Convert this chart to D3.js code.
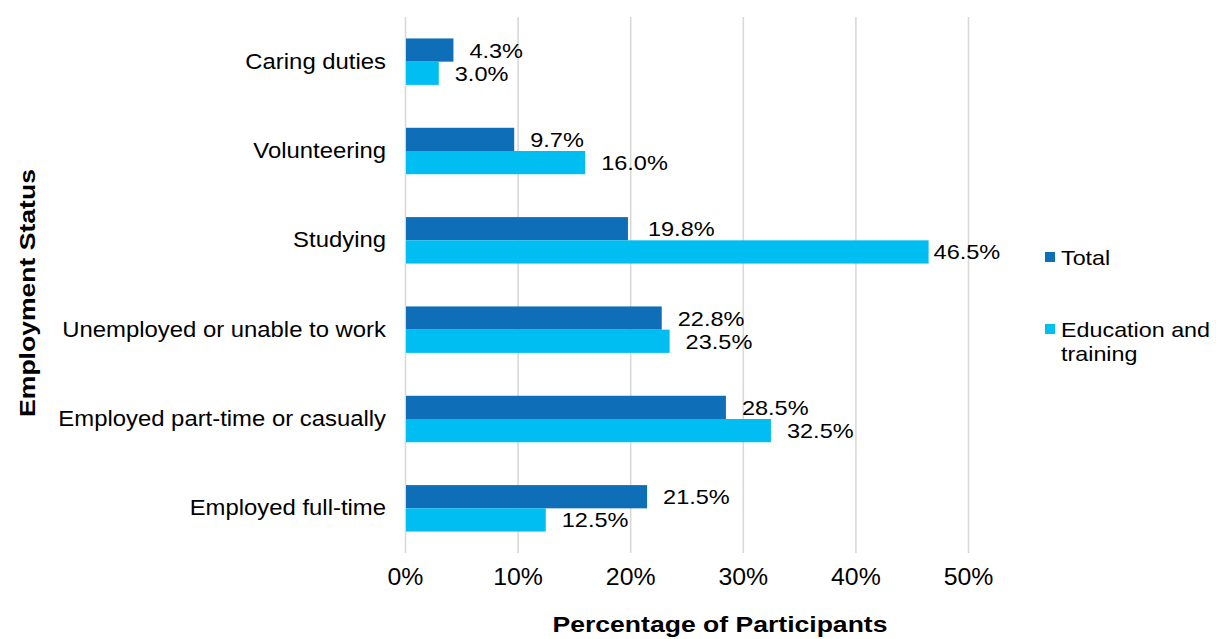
<!DOCTYPE html>
<html>
<head>
<meta charset="utf-8">
<script src="https://cdn.jsdelivr.net/npm/d3@7"></script>
<style>
  html, body { margin: 0; padding: 0; background: #fff; }
  svg { display: block; font-family: "Liberation Sans", Arial, Helvetica, sans-serif; }
</style>
</head>
<body>
<svg id="chart" width="1216" height="639"></svg>
<script>
// ---- Data ----
const categories = [
  "Caring duties",
  "Volunteering",
  "Studying",
  "Unemployed or unable to work",
  "Employed part-time or casually",
  "Employed full-time"
];
const seriesNames = ["Total", "Education and training"];
const totalValues     = [4.3, 9.7, 19.8, 22.8, 28.5, 21.5];
const educationValues = [3.0, 16.0, 46.5, 23.5, 32.5, 12.5];
const xTicks = [0, 10, 20, 30, 40, 50];
const xTitle = "Percentage of Participants";
const yTitle = "Employment Status";

// ---- Styling ----
const colors = { "Total": "#0E6EB8", "Education and training": "#00BEF2" };
const gridColor = "#D9D9D9";

const svg = d3.select("#chart");

function stretch(sel, f) {
  sel.each(function () {
    const w = this.getComputedTextLength();
    this.setAttribute("textLength", w * f);
    this.setAttribute("lengthAdjust", "spacingAndGlyphs");
  });
}

const plot = { left: 405, right: 968, top: 17, bottom: 553 };

const x = d3.scaleLinear().domain([0, 50]).range([plot.left, plot.right]);
const y = d3.scaleBand().domain(categories).range([plot.top, plot.bottom])
  .paddingInner(0.48).paddingOuter(0.24);
const ySub = d3.scaleBand().domain(seriesNames).range([0, y.bandwidth()]);

// ---- X axis (gridlines + labels) ----
const xAxis = svg.append("g")
  .attr("transform", `translate(0,${plot.bottom})`)
  .call(d3.axisBottom(x).tickValues(xTicks)
    .tickSize(-(plot.bottom - plot.top))
    .tickPadding(16)
    .tickFormat(d => d + "%"));
xAxis.select(".domain").remove();
xAxis.selectAll(".tick line").attr("stroke", gridColor).attr("stroke-width", 1.6);
xAxis.selectAll(".tick text")
  .attr("fill", "#000").style("font-size", "23px").style("font-family", "inherit");
stretch(xAxis.selectAll(".tick text"), 1.08);

// ---- Y axis (category labels) ----
const yAxis = svg.append("g")
  .attr("transform", `translate(${plot.left},0)`)
  .call(d3.axisLeft(y).tickSize(0).tickPadding(19));
yAxis.select(".domain").remove();
yAxis.selectAll(".tick text")
  .attr("fill", "#000").style("font-size", "22px").style("font-family", "inherit");
stretch(yAxis.selectAll(".tick text"), 1.085);

// ---- Bars ----
const rows = categories.map((c, i) => ({
  category: c,
  values: [
    { series: "Total", value: totalValues[i] },
    { series: "Education and training", value: educationValues[i] }
  ]
}));

const groups = svg.append("g").selectAll("g")
  .data(rows).join("g")
  .attr("transform", d => `translate(0,${y(d.category)})`);

groups.selectAll("rect")
  .data(d => d.values).join("rect")
  .attr("x", x(0) + 1)
  .attr("y", d => ySub(d.series))
  .attr("width", d => x(d.value) - x(0) - 1)
  .attr("height", ySub.bandwidth())
  .attr("fill", d => colors[d.series]);

// label offsets (Excel-like, with a couple of manually shifted ones)
const labelGap = 16;
const labelGapOverride = { "Studying|Total": 20, "Studying|Education and training": 5 };

const vLabels = groups.selectAll("text.val")
  .data(d => d.values.map(v => ({ ...v, category: d.category }))).join("text")
  .attr("class", "val")
  .attr("x", d => x(d.value) + (labelGapOverride[d.category + "|" + d.series] ?? labelGap))
  .attr("y", d => ySub(d.series) + ySub.bandwidth() / 2)
  .attr("dy", "0.36em")
  .style("font-size", "21px")
  .attr("fill", "#000")
  .text(d => d.value.toFixed(1) + "%");
stretch(vLabels, 1.12);

// ---- Axis titles ----
const xt = svg.append("text")
  .attr("x", 720).attr("y", 632)
  .attr("text-anchor", "middle")
  .style("font-size", "22.5px").style("font-weight", "bold")
  .text(xTitle);
stretch(xt, 1.18);

const yt = svg.append("text")
  .attr("transform", "translate(35,293) rotate(-90)")
  .attr("text-anchor", "middle")
  .style("font-size", "22.5px").style("font-weight", "bold")
  .text(yTitle);
stretch(yt, 1.18);

// ---- Legend ----
const legend = svg.append("g");
const legendItems = [
  { series: "Total", lines: ["Total"], y: 257 },
  { series: "Education and training", lines: ["Education and", "training"], y: 329 }
];
legendItems.forEach(item => {
  legend.append("rect")
    .attr("x", 1045).attr("y", item.y - 5)
    .attr("width", 10).attr("height", 10)
    .attr("fill", colors[item.series]);
  item.lines.forEach((ln, j) => {
    const t = legend.append("text")
      .attr("x", 1061).attr("y", item.y + j * 24)
      .attr("dy", "0.36em")
      .style("font-size", "21px")
      .text(ln);
    stretch(t, 1.11);
  });
});
</script>
</body>
</html>
